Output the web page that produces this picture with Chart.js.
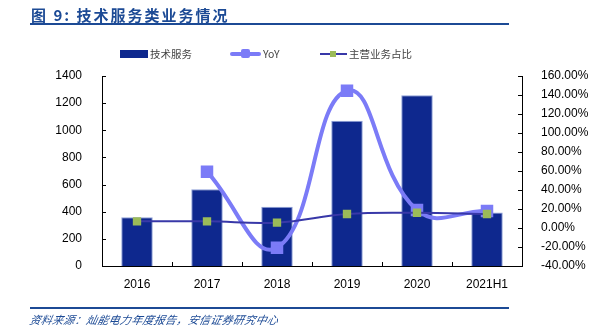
<!DOCTYPE html>
<html>
<head>
<meta charset="utf-8">
<script src="https://cdn.jsdelivr.net/npm/chart.js@4.4.0/dist/chart.umd.min.js"></script>
<style>
  html, body { margin: 0; padding: 0; background: #fff; }
  #wrap { position: relative; width: 613px; height: 333px; overflow: hidden; }
  #chart { position: absolute; left: 0; top: 0; }
  .title { position: absolute; left: 31px; top: 4px; font: bold 15px "Noto Sans CJK SC", sans-serif; color: #1c4a95; letter-spacing: 2px; }
  .rule { position: absolute; left: 30px; width: 479px; height: 2px; background: #1c4a95; }
  .source { position: absolute; left: 30px; top: 311px; font: italic 11px "Noto Sans CJK SC", sans-serif; color: #1c4a95; transform: skewX(-12deg); transform-origin: left; letter-spacing: 0.3px; }
  .legend { position: absolute; top: 46px; left: 0; font: 10.5px "Noto Sans CJK SC", sans-serif; color: #444; }
  .item { position: absolute; white-space: nowrap; display: flex; align-items: center; }
  .sw { position: relative; display: inline-block; margin-right: 2px; }
</style>
</head>
<body>
<div id="wrap">
  <canvas id="chart" width="613" height="333"></canvas>
  <div class="title">图 9:  技术服务类业务情况</div>
  <div class="rule" style="top:23px"></div>
  <div class="legend">
    <div class="item" style="left:120px"><span class="sw" style="width:28px;height:8px;background:#0e288e"></span>技术服务</div>
    <div class="item" style="left:230px"><span class="sw" style="width:31px;height:12px">
      <span style="position:absolute;left:0;top:4px;width:31px;height:4px;background:#7b7bf7;border-radius:2px"></span>
      <span style="position:absolute;left:11px;top:1.5px;width:9px;height:9px;background:#7b7bf7;border-radius:2px"></span>
    </span>YoY</div>
    <div class="item" style="left:320px"><span class="sw" style="width:27px;height:8px">
      <span style="position:absolute;left:0;top:3px;width:27px;height:2px;background:#3838a8"></span>
      <span style="position:absolute;left:10px;top:1px;width:6px;height:6px;background:#9bbb59"></span>
    </span>主营业务占比</div>
  </div>
  <div class="rule" style="top:307px;height:2px;width:479px"></div>
  <div class="source">资料来源：灿能电力年度报告，安信证券研究中心</div>
</div>
<script>
const categories = ['2016', '2017', '2018', '2019', '2020', '2021H1'];
const techService = [359, 565, 437, 1071, 1258, 395];
const yoy = [null, 59.3, -20.7, 144.5, 19, 18];
const mainShare = [7, 7, 5.6, 14.7, 16, 14.7];

const leftTicks = [0, 200, 400, 600, 800, 1000, 1200, 1400];
const rightTicks = [-40, -20, 0, 20, 40, 60, 80, 100, 120, 140, 160];

const tickFont = { family: 'Liberation Sans, Arial, sans-serif', size: 12 };

// short tick marks drawn on the inner side of every axis
const innerTicks = {
  id: 'innerTicks',
  afterDraw(chart) {
    const ctx = chart.ctx;
    const area = chart.chartArea;
    const x = chart.scales.x, yl = chart.scales.y, yr = chart.scales.y1;
    ctx.save();
    ctx.strokeStyle = '#000';
    ctx.lineWidth = 1;
    ctx.beginPath();
    leftTicks.forEach(v => {
      const p = Math.round(yl.getPixelForValue(v)) + 0.5;
      ctx.moveTo(area.left, p); ctx.lineTo(area.left + 4, p);
    });
    rightTicks.forEach(v => {
      const p = Math.round(yr.getPixelForValue(v)) + 0.5;
      ctx.moveTo(area.right, p); ctx.lineTo(area.right - 4, p);
    });
    for (let i = 0; i <= categories.length; i++) {
      const p = Math.round(x.getPixelForValue(i - 0.5)) + 0.5;
      ctx.moveTo(p, area.bottom); ctx.lineTo(p, area.bottom - 4);
    }
    ctx.stroke();
    ctx.restore();
  }
};

new Chart(document.getElementById('chart').getContext('2d'), {
  type: 'bar',
  data: {
    labels: categories,
    datasets: [
      {
        type: 'line',
        label: '主营业务占比',
        data: mainShare,
        yAxisID: 'y1',
        borderColor: '#3838a8',
        borderWidth: 2,
        tension: 0.4,
        pointStyle: 'rect',
        pointRadius: 4.5,
        pointBackgroundColor: '#9bbb59',
        pointBorderColor: '#9bbb59',
        order: 1
      },
      {
        type: 'line',
        label: 'YoY',
        data: yoy,
        yAxisID: 'y1',
        borderColor: '#7b7bf7',
        borderWidth: 4,
        tension: 0.45,
        pointStyle: 'rect',
        pointRadius: 6,
        pointBackgroundColor: '#7b7bf7',
        pointBorderColor: '#7b7bf7',
        order: 2
      },
      {
        label: '技术服务',
        data: techService,
        yAxisID: 'y',
        backgroundColor: '#0e288e',
        borderColor: '#8fa0d8',
        borderWidth: { top: 1, left: 1, right: 1, bottom: 0 },
        categoryPercentage: 0.9,
        barPercentage: 0.5,
        order: 3
      }
    ]
  },
  options: {
    responsive: false,
    animation: false,
    layout: { padding: { top: 76, bottom: 42, left: 0, right: 0 } },
    plugins: {
      legend: { display: false },
      tooltip: { enabled: false }
    },
    scales: {
      x: {
        offset: true,
        grid: { display: false },
        border: { color: '#000', width: 1 },
        ticks: { color: '#000', font: tickFont, padding: 3, maxRotation: 0 },
        afterFit: s => { s.height = 25; }
      },
      y: {
        position: 'left',
        min: 0, max: 1400,
        afterBuildTicks: s => { s.ticks = leftTicks.map(v => ({ value: v })); },
        grid: { display: false },
        border: { color: '#000', width: 1 },
        ticks: { color: '#000', font: tickFont, padding: 12, callback: v => String(v) },
        afterFit: s => { s.width = 102; }
      },
      y1: {
        position: 'right',
        min: -40, max: 160,
        afterBuildTicks: s => { s.ticks = rightTicks.map(v => ({ value: v })); },
        grid: { display: false },
        border: { color: '#000', width: 1 },
        ticks: { color: '#000', font: tickFont, padding: 11, callback: v => v.toFixed(2) + '%' },
        afterFit: s => { s.width = 91; }
      }
    }
  },
  plugins: [innerTicks]
});
</script>
</body>
</html>
